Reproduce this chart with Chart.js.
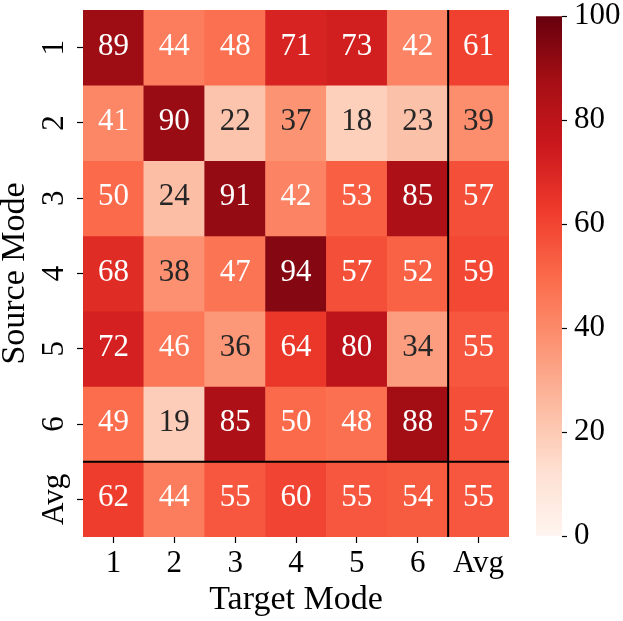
<!DOCTYPE html>
<html>
<head>
<meta charset="utf-8">
<script src="https://cdn.jsdelivr.net/npm/chart.js@4.4.1/dist/chart.umd.min.js"></script>
<style>
html, body { margin: 0; padding: 0; background: #fff; }
#wrap { position: relative; width: 623px; height: 621px; }
#heat { position: absolute; left: 0; top: 0; width: 520px; height: 621px; }
#cbar { position: absolute; left: 520px; top: 0; width: 103px; height: 621px; }
</style>
</head>
<body>
<div id="wrap">
    <div id="heat"><canvas id="heatmap"></canvas></div>
    <div id="cbar"><canvas id="colorbar"></canvas></div>
</div>
<script>
// target (columns) and source (rows) labels
var targetModes = ['1', '2', '3', '4', '5', '6', 'Avg'];
var sourceModes = ['1', '2', '3', '4', '5', '6', 'Avg'];

// one array per source mode row
var row1 = [89, 44, 48, 71, 73, 42, 61];
var row2 = [41, 90, 22, 37, 18, 23, 39];
var row3 = [50, 24, 91, 42, 53, 85, 57];
var row4 = [68, 38, 47, 94, 57, 52, 59];
var row5 = [72, 46, 36, 64, 80, 34, 55];
var row6 = [49, 19, 85, 50, 48, 88, 57];
var rowAvg = [62, 44, 55, 60, 55, 54, 55];
var rows = [row1, row2, row3, row4, row5, row6, rowAvg];

var colorMin = 0;
var colorMax = 100;
var colorTicks = [0, 20, 40, 60, 80, 100];

// matplotlib "Reds"
var reds = ['#fff5f0', '#fee0d2', '#fcbba1', '#fc9272', '#fb6a4a', '#ef3b2c', '#cb181d', '#a50f15', '#67000d'];
var FONT = '"Liberation Serif", "Times New Roman", serif';
var NUM_SIZE = 31;
var TITLE_SIZE = 34;

Chart.defaults.font.family = FONT;
Chart.defaults.color = '#000';

function hexRgb(h) {
    return [parseInt(h.substr(1, 2), 16), parseInt(h.substr(3, 2), 16), parseInt(h.substr(5, 2), 16)];
}
function redsRgb(v) {
    var t = (v - colorMin) / (colorMax - colorMin);
    t = Math.max(0, Math.min(1, t));
    var pos = t * (reds.length - 1);
    var i = Math.min(Math.floor(pos), reds.length - 2);
    var f = pos - i;
    var a = hexRgb(reds[i]), b = hexRgb(reds[i + 1]);
    return [0, 1, 2].map(function (k) { return Math.round(a[k] + (b[k] - a[k]) * f); });
}
function redsColor(v) {
    var c = redsRgb(v);
    return 'rgb(' + c[0] + ',' + c[1] + ',' + c[2] + ')';
}
// same rule seaborn uses for annotation colour
function textColor(v) {
    var c = redsRgb(v).map(function (x) {
        x = x / 255;
        return x <= 0.03928 ? x / 12.92 : Math.pow((x + 0.055) / 1.055, 2.4);
    });
    var lum = 0.2126 * c[0] + 0.7152 * c[1] + 0.0722 * c[2];
    return lum > 0.408 ? '#262626' : '#ffffff';
}

var datasets = rows.map(function (vals, r) {
    return {
        label: sourceModes[r],
        values: vals,
        data: vals.map(function () { return [r, r + 1]; }),
        backgroundColor: vals.map(redsColor),
        borderWidth: 0,
        grouped: false,
        barPercentage: 1,
        categoryPercentage: 1
    };
});

var annotate = {
    id: 'annotate',
    afterDatasetsDraw: function (chart) {
        var ctx = chart.ctx;
        var xs = chart.scales.x, ys = chart.scales.y, area = chart.chartArea;
        ctx.save();
        ctx.font = NUM_SIZE + 'px ' + FONT;
        ctx.textAlign = 'center';
        ctx.textBaseline = 'middle';
        chart.data.datasets.forEach(function (ds, r) {
            chart.getDatasetMeta(r).data.forEach(function (bar, c) {
                var p = bar.getCenterPoint();
                ctx.fillStyle = textColor(ds.values[c]);
                ctx.fillText(String(ds.values[c]), p.x, p.y - 1);
            });
        });
        // lines that set off the Avg row and column
        var lx = (xs.getPixelForValue(5) + xs.getPixelForValue(6)) / 2;
        var ly = ys.getPixelForValue(6);
        ctx.strokeStyle = '#000';
        ctx.lineWidth = 2;
        ctx.beginPath();
        ctx.moveTo(lx, area.top);
        ctx.lineTo(lx, area.bottom);
        ctx.moveTo(area.left, ly);
        ctx.lineTo(area.right, ly);
        ctx.stroke();
        // rotated row labels
        ctx.fillStyle = '#000';
        ctx.textBaseline = 'alphabetic';
        sourceModes.forEach(function (m, r) {
            var y = ys.getPixelForValue(r + 0.5);
            ctx.save();
            ctx.translate(area.left - 20, y);
            ctx.rotate(-Math.PI / 2);
            ctx.fillText(m, 0, 0);
            ctx.restore();
        });
        ctx.restore();
    }
};

new Chart(document.getElementById('heatmap').getContext('2d'), {
    type: 'bar',
    data: { labels: targetModes, datasets: datasets },
    options: {
        responsive: true,
        maintainAspectRatio: false,
        animation: false,
        events: [],
        layout: { padding: { top: 10, right: 11, bottom: 0, left: 0 } },
        plugins: { legend: { display: false }, tooltip: { enabled: false } },
        scales: {
            x: {
                grid: { offset: false, drawOnChartArea: false, drawTicks: true, tickLength: 6, tickColor: '#000', tickWidth: 1.2 },
                border: { display: false },
                ticks: { font: { size: NUM_SIZE, lineHeight: 1.2 }, padding: 2, maxRotation: 0, color: '#000' },
                title: { display: true, text: 'Target Mode', font: { size: TITLE_SIZE, lineHeight: 1 }, padding: { top: 0, bottom: 4 }, color: '#000' },
                afterFit: function (scale) { scale.height = 84; }
            },
            y: {
                type: 'linear',
                min: 0,
                max: 7,
                reverse: true,
                grid: { drawOnChartArea: false, drawTicks: true, tickLength: 6, tickColor: '#000', tickWidth: 1.2 },
                border: { display: false },
                ticks: { callback: function () { return ''; }, padding: 0 },
                afterBuildTicks: function (scale) {
                    scale.ticks = sourceModes.map(function (m, i) { return { value: i + 0.5 }; });
                },
                title: { display: true, text: 'Source Mode', font: { size: TITLE_SIZE, lineHeight: 1 }, padding: { top: -2, bottom: 0 }, color: '#000' },
                afterFit: function (scale) { scale.width = 83; }
            }
        }
    },
    plugins: [annotate]
});

// colour bar
new Chart(document.getElementById('colorbar').getContext('2d'), {
    type: 'bar',
    data: {
        labels: [''],
        datasets: [{
            data: [[colorMin, colorMax]],
            borderWidth: 0,
            barPercentage: 1,
            categoryPercentage: 1,
            backgroundColor: function (c) {
                var chart = c.chart;
                if (!chart.chartArea) return reds[4];
                var ys = chart.scales.y;
                var g = chart.ctx.createLinearGradient(0, ys.getPixelForValue(colorMin), 0, ys.getPixelForValue(colorMax));
                reds.forEach(function (col, i) { g.addColorStop(i / (reds.length - 1), col); });
                return g;
            }
        }]
    },
    options: {
        responsive: true,
        maintainAspectRatio: false,
        animation: false,
        events: [],
        layout: { padding: { top: 10, right: 0, bottom: 85, left: 16 } },
        plugins: { legend: { display: false }, tooltip: { enabled: false } },
        scales: {
            x: { display: false },
            y: {
                position: 'right',
                min: colorMin,
                max: colorMax,
                grid: { drawOnChartArea: false, drawTicks: true, tickLength: 5, tickColor: '#000', tickWidth: 1.2 },
                border: { display: false },
                afterBuildTicks: function (scale) {
                    scale.ticks = colorTicks.map(function (v) { return { value: v }; });
                },
                ticks: { font: { size: NUM_SIZE, lineHeight: 0.6 }, padding: 7, color: '#000' },
                afterFit: function (scale) { scale.width = 61; }
            }
        }
    }
});
</script>
</body>
</html>
